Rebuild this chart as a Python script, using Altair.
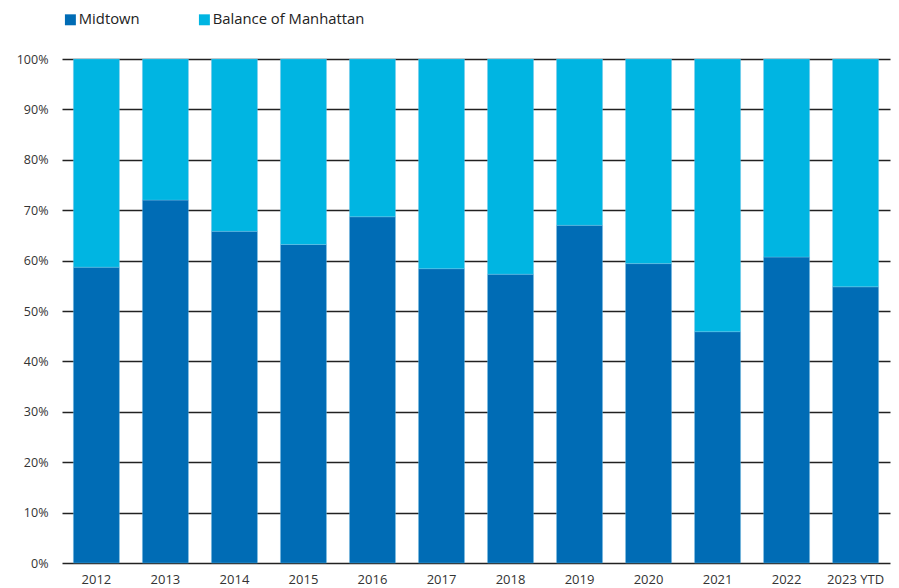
import altair as alt
import pandas as pd

years = ["2012", "2013", "2014", "2015", "2016", "2017", "2018", "2019", "2020", "2021", "2022", "2023 YTD"]
midtown = [58.7, 72.0, 65.8, 63.2, 68.7, 58.4, 57.3, 67.0, 59.4, 45.9, 60.7, 54.8]
balance = [41.3, 28.0, 34.2, 36.8, 31.3, 41.6, 42.7, 33.0, 40.6, 54.1, 39.3, 45.2]
series = ["Midtown", "Balance of Manhattan"]
colors = ["#006cb5", "#00b5e2"]

rows = []
for i, y in enumerate(years):
    rows.append({"year": y, "series": series[0], "value": midtown[i] / 100, "ord": 0})
    rows.append({"year": y, "series": series[1], "value": balance[i] / 100, "ord": 1})
df = pd.DataFrame(rows)

font = "Open Sans"

chart = alt.Chart(df).mark_bar(stroke="#7fc4e8", strokeWidth=0.6, strokeOpacity=0.6).encode(
    x=alt.X("year:N", sort=years, title=None,
            scale=alt.Scale(paddingInner=0.333, paddingOuter=0.165),
            axis=alt.Axis(labelAngle=0, domain=False, ticks=False, labelPadding=10,
                          labelFontSize=13, labelColor="#333333", labelFont=font)),
    y=alt.Y("value:Q", stack="zero", title=None,
            scale=alt.Scale(domain=[0, 1], nice=False),
            axis=alt.Axis(values=[i / 10 for i in range(11)], format=".0%", domain=False, ticks=False,
                          labelPadding=14, labelFontSize=12.5, labelColor="#333333", labelFont=font,
                          grid=True, gridColor="#222222", gridWidth=1.5)),
    color=alt.Color("series:N", sort=series,
                    scale=alt.Scale(domain=series, range=colors),
                    legend=alt.Legend(title=None, orient="none", direction="horizontal",
                                      legendX=1, legendY=-47, symbolType="square", symbolSize=120,
                                      symbolStrokeWidth=0, labelFontSize=14.8, labelFont=font,
                                      labelColor="#222222", columnPadding=57, labelOffset=1)),
    order=alt.Order("ord:Q", sort="ascending"),
).properties(
    width=828, height=504,
    autosize=alt.AutoSizeParams(type="none"),
    padding={"left": 54, "top": 51, "right": 1, "bottom": 25},
).configure_view(stroke=None).configure_axis(gridCap="butt")

chart.save("out.html", embed_options={"renderer": "svg", "actions": False})
